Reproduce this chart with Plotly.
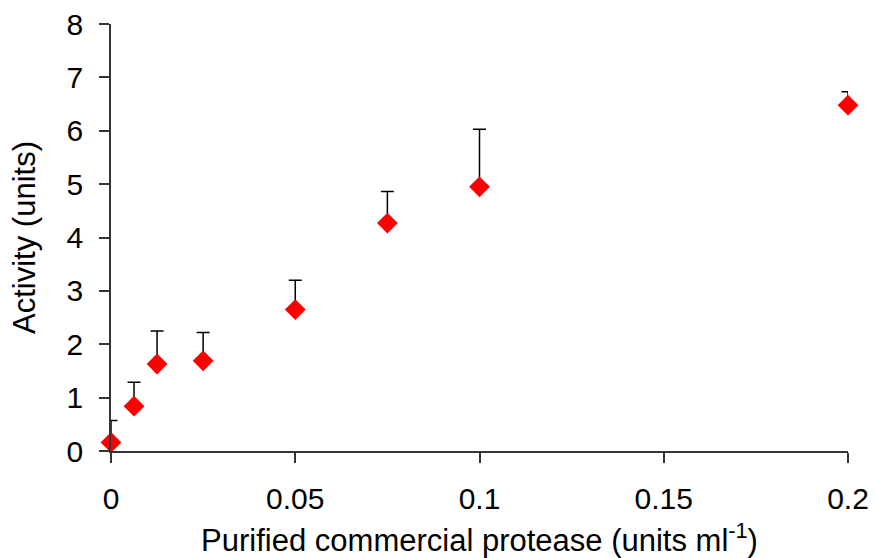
import plotly.graph_objects as go

protease = [0, 0.00625, 0.0125, 0.025, 0.05, 0.075, 0.1, 0.2]
activity = [0.16, 0.84, 1.63, 1.69, 2.65, 4.27, 4.95, 6.48]
err_plus = [0.41, 0.45, 0.62, 0.53, 0.55, 0.59, 1.08, 0.25]

x_ticks = [0, 0.05, 0.1, 0.15, 0.2]
x_ticklabels = ["0", "0.05", "0.1", "0.15", "0.2"]
y_ticks = [0, 1, 2, 3, 4, 5, 6, 7, 8]

font = "Liberation Sans, Arial, sans-serif"

fig = go.Figure()
fig.add_trace(go.Scatter(
    x=protease, y=activity, mode="markers",
    marker=dict(symbol="diamond", size=16, color="#ff0000"),
    error_y=dict(type="data", array=err_plus, arrayminus=[0]*len(err_plus),
                 symmetric=False, color="black", thickness=1.5, width=6.5),
    cliponaxis=False, showlegend=False,
))

fig.update_layout(
    width=875, height=558,
    margin=dict(l=111, r=27, t=24, b=107),
    paper_bgcolor="white", plot_bgcolor="white",
    font=dict(family=font, size=30, color="black"),
)
fig.update_xaxes(
    range=[0, 0.2], tickvals=x_ticks, ticktext=x_ticklabels, automargin=False,
    showgrid=False, zeroline=False, showline=True, linecolor="#333", linewidth=1.5,
    ticks="outside", ticklen=10, tickwidth=1.5, tickcolor="#333",
    tickfont=dict(size=30), ticklabelstandoff=10,
    title=dict(text="Purified commercial protease (units ml<sup>-1</sup>)", font=dict(size=31), standoff=20),
)
fig.update_yaxes(
    range=[0, 8], tickvals=y_ticks, automargin=False,
    showgrid=False, zeroline=False, showline=True, linecolor="#333", linewidth=1.5,
    ticks="outside", ticklen=10, tickwidth=1.5, tickcolor="#333",
    tickfont=dict(size=30), ticklabelstandoff=10,
    title=dict(text="Activity (units)", font=dict(size=31), standoff=22),
)

fig.write_html("out.html")
